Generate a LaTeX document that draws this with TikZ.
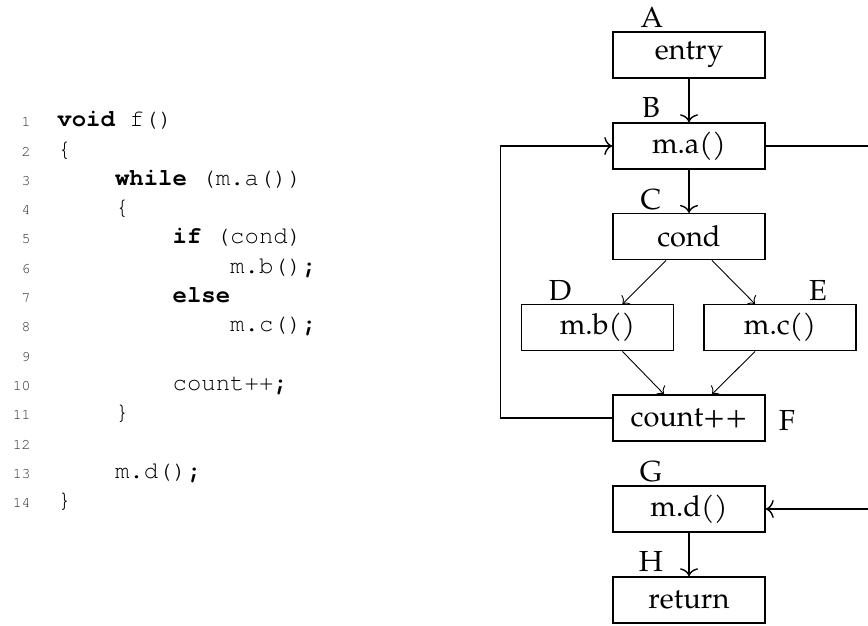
\documentclass[tikz,border=0pt]{standalone}
\usepackage{fontspec}
\setmainfont{texgyrepagella-regular.otf}
\newfontfamily\codefont{texgyrecursor}[Extension=.otf, UprightFont=*-regular, BoldFont=*-bold]
\usetikzlibrary{arrows.meta,calc}
\begin{document}
\begin{tikzpicture}[x=0.5pt,y=-0.5pt,
  box/.style={draw, line width=0.75pt, minimum width=76pt, minimum height=23pt, inner sep=0pt, font=\fontsize{14.5}{17}\selectfont},
  lab/.style={anchor=base, inner sep=0pt, font=\fontsize{14.5}{17}\selectfont},
  code/.style={anchor=base west, inner sep=0pt, font=\codefont\fontsize{12}{14}\selectfont},
  num/.style={anchor=base east, inner sep=0pt, text=black!85, font=\codefont\fontsize{7.4}{9}\selectfont},
  flow/.style={line width=0.7pt, -{To[length=4pt,width=9pt]}},
  diag/.style={line width=0.45pt, -{To[length=3pt,width=7pt]}}]
\useasboundingbox (0,0) rectangle (868,626);

% code listing
\node[num] (n1) at (31,126.7) {1};
\node[num] (n2) at (31,156.0) {2};
\node[num] (n3) at (31,185.3) {3};
\node[num] (n4) at (31,214.6) {4};
\node[num] (n5) at (31,243.9) {5};
\node[num] (n6) at (31,273.2) {6};
\node[num] (n7) at (31,302.5) {7};
\node[num] (n8) at (31,331.8) {8};
\node[num] (n9) at (31,361.1) {9};
\node[num] (n10) at (31,390.4) {10};
\node[num] (n11) at (31,419.7) {11};
\node[num] (n12) at (31,449.0) {12};
\node[num] (n13) at (31,478.3) {13};
\node[num] (n14) at (31,507.6) {14};

\node[code] (l1) at (57,126.7) {\textbf{void} f()};
\node[code] (l2) at (57,156.0) {\{};
\node[code] (l3) at (114.6,185.3) {\textbf{while} (m.a())};
\node[code] (l4) at (114.6,214.6) {\{};
\node[code] (l5) at (172.2,243.9) {\textbf{if} (cond)};
\node[code] (l6) at (229.8,273.2) {m.b()\textbf{;}};
\node[code] (l7) at (172.2,302.5) {\textbf{else}};
\node[code] (l8) at (229.8,331.8) {m.c()\textbf{;}};
\node[code] (l10) at (172.2,390.4) {count++\textbf{;}};
\node[code] (l11) at (114.6,419.7) {\}};
\node[code] (l13) at (114.6,478.3) {m.d()\textbf{;}};
\node[code] (l14) at (57,507.6) {\}};

% flow graph
\node[box] (entry) at (689,55) {entry};
\node[box] (ma) at (689,146) {m.a()};
\node[box] (cond) at (689,236.7) {cond};
\node[box] (D) at (597.5,327.7) {m.b()};
\node[box] (E) at (780,327.7) {m.c()};
\node[box] (count) at (689,418) {count++};
\node[box] (md) at (689,509) {m.d()};
\node[box] (ret) at (689,600) {return};

\node[lab] (lA) at (652,28) {A};
\node[lab] (lB) at (651,118) {B};
\node[lab] (lC) at (651,210) {C};
\node[lab] (lD) at (560,300) {D};
\node[lab] (lE) at (818,300) {E};
\node[lab] (lF) at (787,430) {F};
\node[lab] (lG) at (651,481.7) {G};
\node[lab] (lH) at (651,571.7) {H};

\coordinate (outA) at (868,146);
\coordinate (outB) at (868,509);

\draw[flow] (entry.south) -- (ma.north);
\draw[flow] (ma.south) -- (cond.north);
\draw[diag] ($(cond.south)+(-23,0)$) -- ($(D.north)+(25,0)$);
\draw[diag] ($(cond.south)+(23,0)$) -- ($(E.north)+(-25,0)$);
\draw[diag] ($(D.south)+(25,0)$) -- ($(count.north)+(-25,0)$);
\draw[diag] ($(E.south)+(-25,0)$) -- ($(count.north)+(23,0)$);
\draw[flow] (count.west) -- ++(-112,0) |- (ma.west);
\draw[line width=0.7pt] (ma.east) -- (outA);
\draw[flow] (outB) -- (md.east);
\draw[flow] (md.south) -- (ret.north);
\end{tikzpicture}
\end{document}
